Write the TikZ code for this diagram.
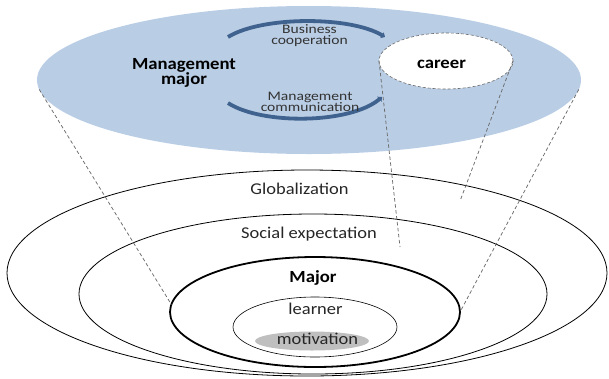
\documentclass[tikz,border=0pt]{standalone}
\usepackage{fontspec}
\setmainfont{Carlito}
\usetikzlibrary{shapes.geometric,arrows.meta}
\definecolor{fieldblue}{HTML}{B9CDE5}
\definecolor{arcblue}{RGB}{64,98,142}
\definecolor{guide}{gray}{0.42}
\definecolor{corefill}{HTML}{BFBFBF}
% slightly widened lettering
\newcommand\widetext[2][1.12]{\scalebox{#1}[1]{#2}}

\begin{document}
\begin{tikzpicture}[x=1pt,y=-1pt,
  oval/.style={ellipse, inner sep=0pt, outer sep=0pt},
  ring/.style={oval, draw=black, line width=0.8pt},
  guideline/.style={draw=guide, dash pattern=on 3.5pt off 2.5pt, line width=0.75pt},
  cyclearrow/.style={draw=arcblue, line width=3.8pt, -{Triangle[length=3.5pt,width=6.5pt]}},
  ringlabel/.style={anchor=base, inner sep=0pt, text=black!85, font=\fontsize{16.5}{19}\selectfont},
  boldlabel/.style={anchor=base, inner sep=0pt, text=black, font=\bfseries\fontsize{17}{12}\selectfont},
  smalllabel/.style={anchor=base, inner sep=0pt, text=black!80, font=\fontsize{13}{10}\selectfont}
]
\useasboundingbox (0,0) rectangle (609,378);

% upper field: the management major
\node[oval, fill=fieldblue, minimum width=544pt, minimum height=148pt] (field) at (309,80) {};

% exchange loops between major and career
\coordinate (bcL) at (228,37);
\coordinate (bcR) at (385,37);
\coordinate (mcL) at (228,103);
\coordinate (mcR) at (382,97);
\draw[cyclearrow] (bcL) .. controls (262,16) and (350,16) .. (bcR);
\draw[cyclearrow] (mcL) .. controls (262,125) and (350,124) .. (mcR);

\node[oval, fill=white, draw=guide, densely dashed, line width=0.6pt,
      minimum width=134pt, minimum height=56pt] (career) at (446,61) {};

% lower nested context rings
\node[ring, minimum width=600pt, minimum height=206pt] (glob) at (307,273) {};
\node[ring, minimum width=468pt, minimum height=160pt] (social) at (313,294) {};
\node[oval, draw=black, line width=1.8pt, minimum width=290pt, minimum height=110pt] (major) at (315,312) {};
\node[oval, draw=black, line width=0.6pt, minimum width=164pt, minimum height=60pt] (learner) at (315,327) {};
\node[oval, fill=corefill, minimum width=114pt, minimum height=19pt] (motiv) at (312,341) {};

% projection lines
\coordinate (careerLend) at (400,247);
\coordinate (careerRend) at (460,201);
\draw[guideline] (field.182) -- (major.177);
\draw[guideline] (field.358) -- (major.east);
\draw[guideline] (career.west) -- (careerLend);
\draw[guideline] (career.east) -- (careerRend);

% labels
\node[boldlabel] (mmlabel) at (184,69) {\widetext[1.1]{\begin{tabular}[t]{@{}c@{}}Management\\major\end{tabular}}};
\node[boldlabel] (careerlabel) at (441.5,68) {\widetext[1.1]{career}};
\node[smalllabel] (bclabel) at (309.5,33) {\widetext[1.2]{\begin{tabular}[t]{@{}c@{}}Business\\cooperation\end{tabular}}};
\node[smalllabel] (mclabel) at (310,100) {\widetext[1.2]{\begin{tabular}[t]{@{}c@{}}Management\\communication\end{tabular}}};

\node[ringlabel] (globlabel) at (299.5,194) {\widetext{Globalization}};
\node[ringlabel] (sociallabel) at (309,238) {\widetext{Social expectation}};
\node[boldlabel] (majorlabel) at (313,282) {\widetext[1.1]{Major}};
\node[ringlabel] (learnerlabel) at (315.5,314) {\widetext{learner}};
\node[ringlabel] (motivlabel) at (317.5,344) {\widetext{motivation}};
\end{tikzpicture}
\end{document}
